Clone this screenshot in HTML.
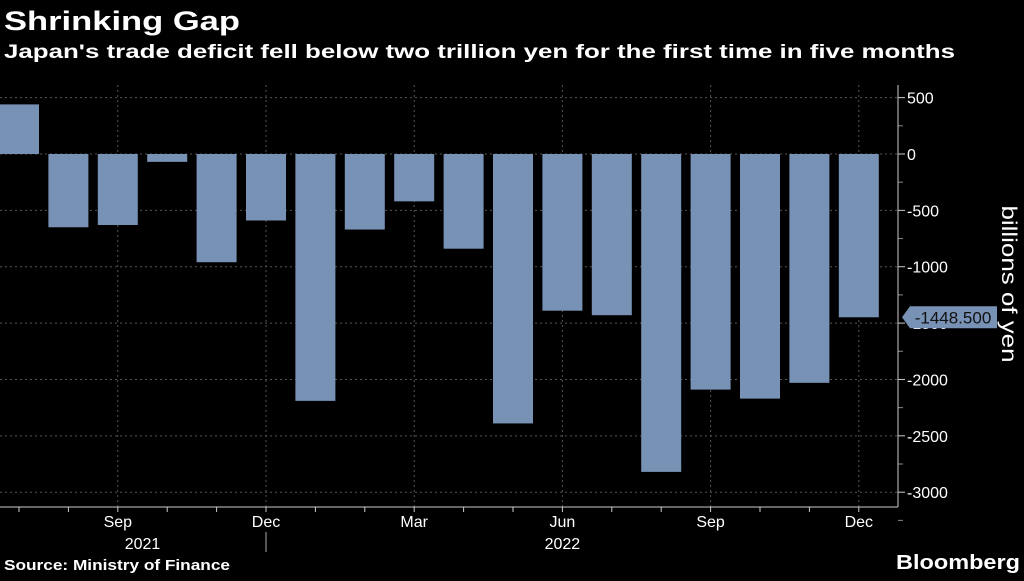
<!DOCTYPE html>
<html><head><meta charset="utf-8"><style>
body{margin:0;background:#000;width:1024px;height:576px;overflow:hidden;font-family:"Liberation Sans",sans-serif;color:#fff}
</style></head><body>
<svg width="1024" height="576">
<text x="4" y="30" font-size="27" font-weight="bold" fill="#fff" textLength="236" lengthAdjust="spacingAndGlyphs">Shrinking Gap</text>
<text x="4" y="58" font-size="19" font-weight="bold" fill="#fff" textLength="951" lengthAdjust="spacingAndGlyphs">Japan's trade deficit fell below two trillion yen for the first time in five months</text>
<g id="grid"></g><g id="bars"></g><g id="axes"></g>
<text transform="translate(1002,284) rotate(90)" font-size="21" fill="#fff" text-anchor="middle" textLength="157" lengthAdjust="spacingAndGlyphs">billions of yen</text>
<text x="4" y="570" font-size="15" font-weight="bold" fill="#fff" textLength="226" lengthAdjust="spacingAndGlyphs">Source: Ministry of Finance</text>
<text x="1020" y="569" font-size="20" font-weight="bold" fill="#fff" text-anchor="end" textLength="124" lengthAdjust="spacingAndGlyphs">Bloomberg</text>
</svg>
<script>
const months=["Jul","Aug","Sep","Oct","Nov","Dec","Jan","Feb","Mar","Apr","May","Jun","Jul","Aug","Sep","Oct","Nov","Dec"];
const values=[440,-650,-630,-70,-960,-590,-2190,-670,-420,-840,-2390,-1390,-1430,-2820,-2090,-2170,-2030,-1448.5];
const yTicks=[500,0,-500,-1000,-1500,-2000,-2500,-3000];
const yearLabels=[{year:"2021",idx:2.5},{year:"2022",idx:11}];
const NS="http://www.w3.org/2000/svg";
const x=i=>19+i*49.4;
const y=v=>154-v*0.11273;
function mk(t,a,p){const e=document.createElementNS(NS,t);for(const k in a)e.setAttribute(k,a[k]);p.appendChild(e);return e;}
const grid=document.getElementById('grid'),bars=document.getElementById('bars'),axes=document.getElementById('axes');
yTicks.forEach(v=>{
 const l=mk('line',{x1:0,x2:898,y1:y(v),y2:y(v),stroke:'#555','stroke-dasharray':'2,3'},grid);
 
 
 const t=mk('line',{x1:898,x2:905,y1:y(v),y2:y(v),stroke:'#ccc'},axes);
 
 
 const m=mk('line',{x1:898,x2:903,y1:y(v-250),y2:y(v-250),stroke:'#888'},axes);
 
 
 const tx=mk('text',{x:907,y:y(v)+6,'font-size':16,fill:'#fff'},axes);
 tx.textContent=v;
 
 
});
values.forEach((v,i)=>{
 const q=(i%3===2);
 if(q){const g=mk('line',{x1:x(i),x2:x(i),y1:85,y2:507,stroke:'#555','stroke-dasharray':'2,3'},grid);
 
 }
 const r=mk('rect',{x:x(i)-20,width:40,y:Math.min(y(v),y(0)),height:Math.abs(y(v)-y(0)),fill:'#7792b5'},bars);
 
 
 const t=mk('line',{x1:x(i),x2:x(i),y1:507,y2:512,stroke:'#ccc'},axes);
 
 
 if(q){const tx=mk('text',{x:x(i),y:527,'font-size':16,fill:'#fff','text-anchor':'middle'},axes);
 tx.textContent=months[i];
 
 }
});
yearLabels.forEach(o=>{
 const tx=mk('text',{x:x(o.idx),y:549,'font-size':16,fill:'#fff','text-anchor':'middle'},axes);
 tx.textContent=o.year;
 
 
});
const sep=mk('line',{x1:x(5),x2:x(5),y1:532,y2:552,stroke:'#aaa'},axes);


const xa=mk('line',{x1:0,x2:898,y1:507,y2:507,stroke:'#ccc'},axes);


const ya=mk('line',{x1:898,x2:898,y1:85,y2:507,stroke:'#ccc'},axes);


const last=values[values.length-1],ly=y(last);
const tag=mk('path',{d:`M902 ${ly} L910 ${ly-11} L997 ${ly-11} L997 ${ly+11} L910 ${ly+11} Z`,fill:'#7792b5'},axes);


const tt=mk('text',{x:953,y:ly+6,'font-size':17,fill:'#111','text-anchor':'middle'},axes);
tt.textContent=last.toFixed(3);


</script>
</body></html>
